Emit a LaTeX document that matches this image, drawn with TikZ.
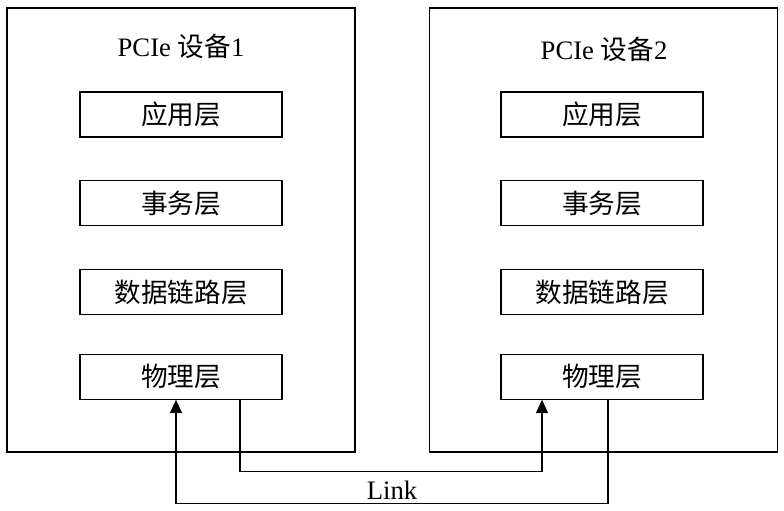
\documentclass[tikz,border=0pt]{standalone}
\usepackage{fontspec}
\setmainfont{Liberation Serif}
\newfontfamily\cjk{Noto Sans CJK SC}
\usetikzlibrary{positioning,arrows.meta}

\begin{document}
\begin{tikzpicture}[
    x=0.75pt, y=-0.75pt,
    >={Triangle[length=10pt,width=9pt]},
    node distance=32pt,
    every node/.style={font=\fontsize{20pt}{23pt}\selectfont, align=center},
    device/.style={draw, line width=0.8pt, minimum width=261pt, minimum height=333pt},
    layer/.style={draw, line width=0.8pt, minimum width=151.5pt, minimum height=33.75pt, inner sep=0pt},
    link/.style={->, line width=0.8pt}
]
\useasboundingbox (0,0) rectangle (784,510);

% two devices
\node[device] (devA) at (181,230) {};
\node[device] (devB) at (603.5,230) {};
\node (titleA) at (181,46) {PCIe {\cjk 设备}1};
\node (titleB) at (604,49) {PCIe {\cjk 设备}2};

% layer stacks
\node[layer] (appA) at (181,114.5) {\cjk 应用层};
\node[layer, below=of appA] (txA) {\cjk 事务层};
\node[layer, below=of txA] (dlA) {\cjk 数据链路层};
\node[layer, below=29pt of dlA] (phyA) {\cjk 物理层};

\node[layer] (appB) at (602,114.5) {\cjk 应用层};
\node[layer, below=of appB] (txB) {\cjk 事务层};
\node[layer, below=of txB] (dlB) {\cjk 数据链路层};
\node[layer, below=29pt of dlB] (phyB) {\cjk 物理层};

% link between the physical layers
\draw[link] ([xshift=44.25pt]phyA.south) -- ++(0,72) -| ([xshift=-45pt]phyB.south);
\draw[link] ([xshift=4.5pt]phyB.south) -- ++(0,104)
    -| node[pos=0.25, above, inner sep=3pt] (lbl) {Link} ([xshift=-3.75pt]phyA.south);

\end{tikzpicture}
\end{document}
